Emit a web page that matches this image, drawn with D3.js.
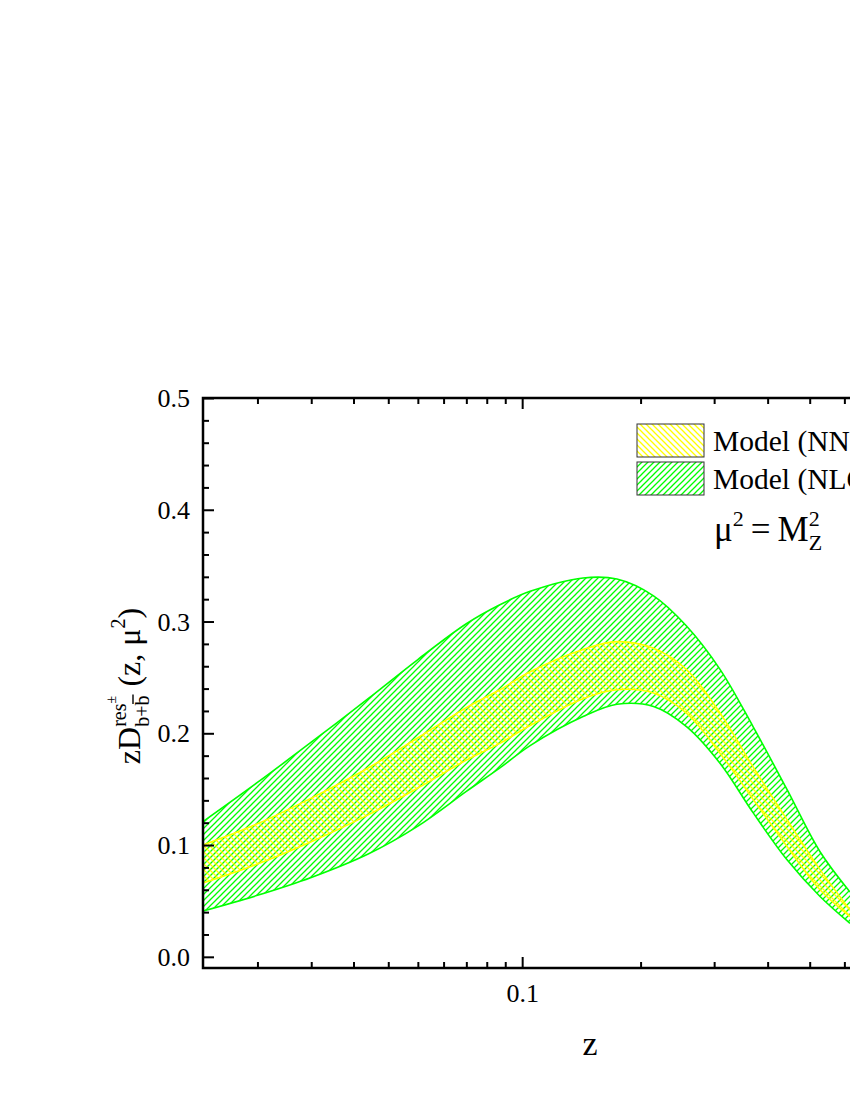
<!DOCTYPE html>
<html>
<head>
<meta charset="utf-8">
<title>zD res b+bbar</title>
<script src="https://cdn.jsdelivr.net/npm/d3@7"></script>
<style>
body { margin: 0; background: #fff; }
svg text { font-family: "Liberation Serif", "Times New Roman", serif; fill: #000; }
.axis path, .axis line { stroke: #000; }
</style>
</head>
<body>
<svg id="chart" width="850" height="1100"></svg>
<script>
// z grid (x values) and the band edges
var zValues   = [0.0023, 0.01, 0.02, 0.034, 0.05, 0.07, 0.087, 0.105, 0.144, 0.175, 0.215, 0.258, 0.31, 0.37, 0.443, 0.528, 0.618];
var nloUpper  = [0.121, 0.156, 0.192, 0.231, 0.266, 0.298, 0.315, 0.327, 0.339, 0.338, 0.323, 0.296, 0.257, 0.206, 0.150, 0.094, 0.058];
var nloLower  = [0.041, 0.055, 0.071, 0.092, 0.117, 0.148, 0.169, 0.189, 0.215, 0.226, 0.224, 0.206, 0.173, 0.129, 0.087, 0.054, 0.030];
var nnloUpper = [0.100, 0.119, 0.142, 0.169, 0.196, 0.223, 0.239, 0.255, 0.275, 0.282, 0.276, 0.257, 0.218, 0.170, 0.123, 0.078, 0.042];
var nnloLower = [0.066, 0.083, 0.103, 0.127, 0.151, 0.176, 0.191, 0.207, 0.231, 0.239, 0.236, 0.218, 0.182, 0.141, 0.099, 0.060, 0.036];

var xLabelTicks = [0.1];
var xMajorTicks = [0.1, 1];
var xMinorTicks = [0.01, 0.02, 0.03, 0.04, 0.05, 0.06, 0.07, 0.08, 0.09, 0.2, 0.3, 0.4, 0.5, 0.6, 0.7, 0.8, 0.9];
var yMajorTicks = [0.0, 0.1, 0.2, 0.3, 0.4, 0.5];
var yMinorTicks = [0.02, 0.04, 0.06, 0.08, 0.12, 0.14, 0.16, 0.18, 0.22, 0.24, 0.26, 0.28, 0.32, 0.34, 0.36, 0.38, 0.42, 0.44, 0.46, 0.48];

var legendLabels = ["Model (NNLO)", "Model (NLO)"];

var GREEN = "#00ff00", YELLOW = "#ffff00";

var svg = d3.select("#chart");
var plotLeft = 203, plotRight = 942.6, plotTop = 398, plotBottom = 968;

// x axis looks log-like but squeezed at small z: symlog fits the tick marks
var x = d3.scaleSymlog().constant(0.022).domain([0.0023, 1]).range([plotLeft, plotRight]);
var y = d3.scaleLinear().domain([-0.01, 0.5]).range([plotBottom, plotTop]);

// hatch patterns
var defs = svg.append("defs");
defs.append("pattern")
    .attr("id", "hatchGreen")
    .attr("patternUnits", "userSpaceOnUse")
    .attr("width", 6).attr("height", 6)
  .append("path")
    .attr("d", "M-1,1 l2,-2 M0,6 l6,-6 M5,7 l2,-2")
    .attr("stroke", GREEN).attr("stroke-width", 1.3);
defs.append("pattern")
    .attr("id", "hatchYellow")
    .attr("patternUnits", "userSpaceOnUse")
    .attr("width", 6).attr("height", 6)
  .append("path")
    .attr("d", "M-1,5 l2,2 M0,0 l6,6 M5,-1 l2,2")
    .attr("stroke", YELLOW).attr("stroke-width", 1.3);

function band(upper, lower) {
  return zValues.map(function(z, i) { return {z: z, hi: upper[i], lo: lower[i]}; });
}
var nlo = band(nloUpper, nloLower);
var nnlo = band(nnloUpper, nnloLower);

var curve = d3.curveCatmullRom.alpha(0.5);
var area = d3.area()
    .x(function(d) { return x(d.z); })
    .y0(function(d) { return y(d.lo); })
    .y1(function(d) { return y(d.hi); })
    .curve(curve);
var lineHi = d3.line().x(function(d) { return x(d.z); }).y(function(d) { return y(d.hi); }).curve(curve);
var lineLo = d3.line().x(function(d) { return x(d.z); }).y(function(d) { return y(d.lo); }).curve(curve);

function drawBand(data, pattern, color) {
  svg.append("path").datum(data).attr("d", area).attr("fill", "url(#" + pattern + ")");
  svg.append("path").datum(data).attr("d", lineHi).attr("fill", "none").attr("stroke", color).attr("stroke-width", 1.6);
  svg.append("path").datum(data).attr("d", lineLo).attr("fill", "none").attr("stroke", color).attr("stroke-width", 1.6);
}
drawBand(nlo, "hatchGreen", GREEN);
drawBand(nnlo, "hatchYellow", YELLOW);

// axes, ticks inward
function axisGroup(axis, tx, ty) {
  var g = svg.append("g").attr("class", "axis")
      .attr("transform", "translate(" + tx + "," + ty + ")")
      .call(axis);
  g.selectAll(".tick line").attr("stroke-width", 2);
  g.select(".domain").remove();
  return g;
}
// left
axisGroup(d3.axisLeft(y).tickValues(yMinorTicks).tickSize(-6).tickFormat(""), plotLeft, 0);
var gl = axisGroup(d3.axisLeft(y).tickValues(yMajorTicks).tickSize(-11).tickPadding(13).tickFormat(d3.format(".1f")), plotLeft, 0);
gl.selectAll("text").style("font-size", "26px").attr("dy", "0.33em");
// bottom
axisGroup(d3.axisBottom(x).tickValues(xMinorTicks).tickSize(-6).tickFormat(""), 0, plotBottom);
axisGroup(d3.axisBottom(x).tickValues(xMajorTicks).tickSize(-11).tickFormat(""), 0, plotBottom);
var gb = axisGroup(d3.axisBottom(x).tickValues(xLabelTicks).tickSize(0).tickPadding(16).tickFormat(d3.format("")), 0, plotBottom);
gb.selectAll("text").style("font-size", "26px");
// top
axisGroup(d3.axisTop(x).tickValues(xMinorTicks).tickSize(-6).tickFormat(""), 0, plotTop);
axisGroup(d3.axisTop(x).tickValues(xMajorTicks).tickSize(-11).tickFormat(""), 0, plotTop);
// right
axisGroup(d3.axisRight(y).tickValues(yMinorTicks).tickSize(-6).tickFormat(""), plotRight, 0);
axisGroup(d3.axisRight(y).tickValues(yMajorTicks).tickSize(-11).tickFormat(""), plotRight, 0);

// frame
svg.append("rect")
    .attr("x", plotLeft).attr("y", plotTop)
    .attr("width", plotRight - plotLeft).attr("height", plotBottom - plotTop)
    .attr("fill", "none").attr("stroke", "#000").attr("stroke-width", 2.5);

// x title
svg.append("text").attr("x", 590).attr("y", 1055)
    .attr("text-anchor", "middle").style("font-size", "34px").text("z");

// piecewise text; parts of one piece are stacked, "follow" puts a part after the previous one
function richText(g, pieces) {
  var cx = 0;
  pieces.forEach(function(p) {
    var w = 0, prevEnd = cx;
    p.parts.forEach(function(part) {
      var px = part.follow ? prevEnd : cx;
      var t = g.append("text").attr("x", px).attr("y", part.dy || 0)
          .style("font-size", part.size + "px").text(part.text);
      var tw = t.node().getComputedTextLength();
      if (part.bar) {
        g.append("line")
          .attr("x1", px + tw - part.size * 0.42).attr("x2", px + tw + 1)
          .attr("y1", (part.dy || 0) - part.size * 0.8).attr("y2", (part.dy || 0) - part.size * 0.8)
          .attr("stroke", "#000").attr("stroke-width", 1.4);
      }
      prevEnd = px + tw;
      w = Math.max(w, px + tw - cx);
    });
    cx += w + (p.gap || 0);
  });
  return cx;
}

// y title, rotated
var yt = svg.append("g").attr("transform", "translate(140,686) rotate(-90)");
var ytInner = yt.append("g");
var ytLen = richText(ytInner, [
  {parts: [{text: "zD", size: 32}]},
  {parts: [{text: "res", size: 20, dy: -14}, {text: "\u00b1", size: 14, dy: -24, follow: true},
           {text: "b+b", size: 20, dy: 9, bar: true}], gap: 9},
  {parts: [{text: "(z, \u03bc", size: 32}]},
  {parts: [{text: "2", size: 20, dy: -15}]},
  {parts: [{text: ")", size: 32}]}
]);
ytInner.attr("transform", "translate(" + (-ytLen / 2) + ",0)");

// legend
var legendFills = ["url(#hatchYellow)", "url(#hatchGreen)"];
legendLabels.forEach(function(lbl, i) {
  var by = 424 + i * 38;
  svg.append("rect").attr("x", 637).attr("y", by).attr("width", 67).attr("height", 33)
      .attr("fill", legendFills[i]).attr("stroke", "#333").attr("stroke-width", 1);
  svg.append("text").attr("x", 713).attr("y", by + 27).style("font-size", "29.5px").text(lbl);
});

// mu^2 = M_Z^2
var mu = svg.append("g").attr("transform", "translate(714,541)");
richText(mu, [
  {parts: [{text: "\u03bc", size: 35}]},
  {parts: [{text: "2", size: 22, dy: -15}]},
  {parts: [{text: "\u2009=\u2009M", size: 35}]},
  {parts: [{text: "Z", size: 22, dy: 9}, {text: "2", size: 22, dy: -15}]}
]);
</script>
</body>
</html>
